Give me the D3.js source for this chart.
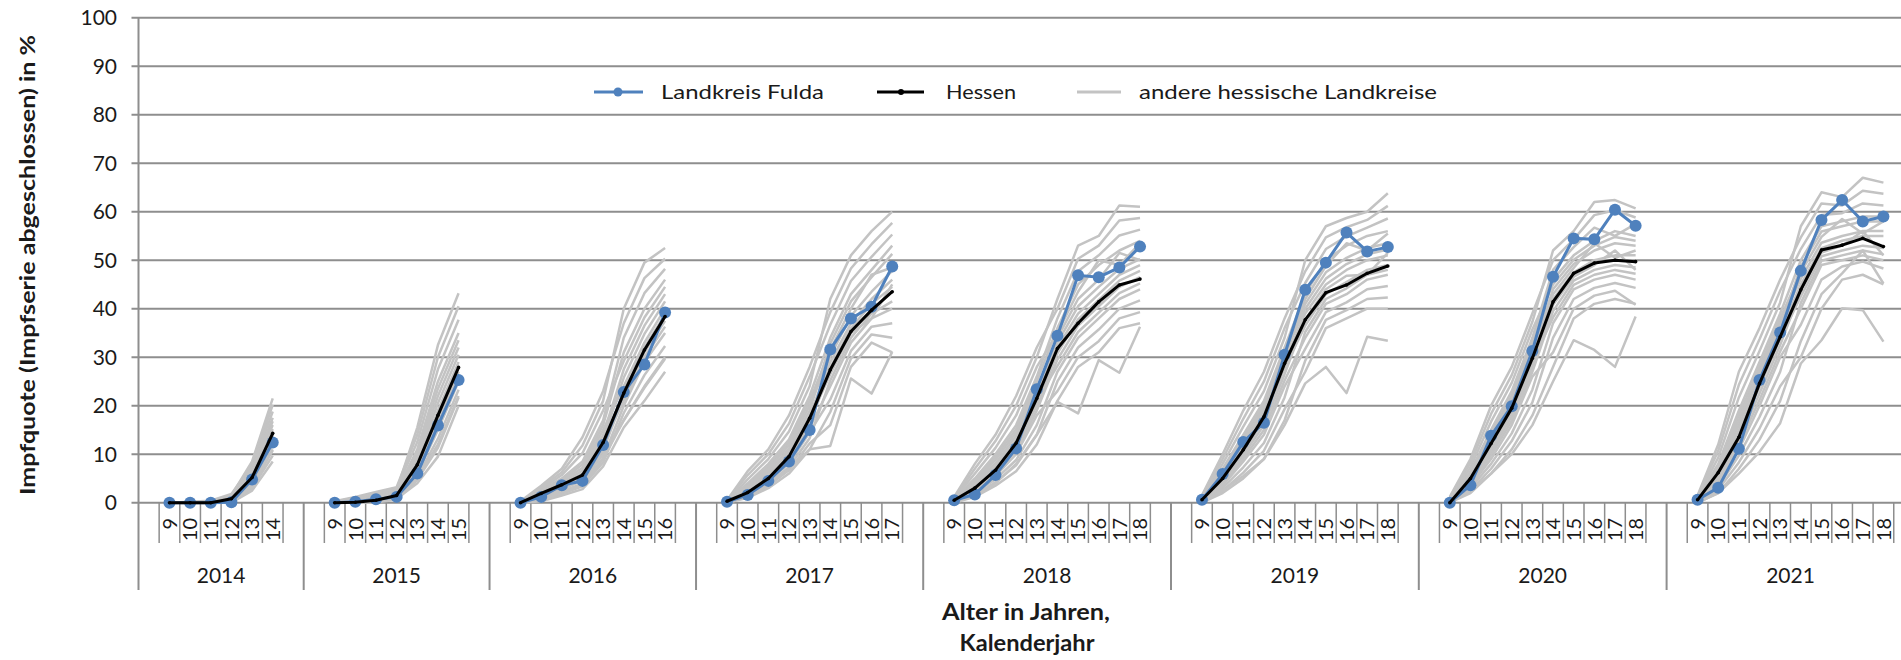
<!DOCTYPE html>
<html><head><meta charset="utf-8">
<script src="https://cdn.jsdelivr.net/npm/d3@7"></script>
<style>html,body{margin:0;padding:0;background:#fff;overflow:hidden}</style>
</head><body>
<svg id="chart" width="1901" height="660"></svg>
<script>
// ---------------- DATA ----------------
const years = [2014, 2015, 2016, 2017, 2018, 2019, 2020, 2021];
const maxAges = [14, 15, 16, 17, 18, 18, 18, 18];
const yTicks = [0, 10, 20, 30, 40, 50, 60, 70, 80, 90, 100];
const legendLabels = ["Landkreis Fulda", "Hessen", "andere hessische Landkreise"];

// Landkreis Fulda, per calendar year, ages 9..max
const fulda = [
  [0, 0, 0, 0.1, 4.8, 12.4],
  [0, 0.2, 0.7, 1.2, 6.0, 15.9, 25.3],
  [0, 1.2, 3.6, 4.5, 11.9, 22.8, 28.5, 39.2],
  [0.2, 1.6, 4.5, 8.5, 15.0, 31.6, 38.0, 40.4, 48.7],
  [0.5, 1.7, 5.7, 11.2, 23.4, 34.4, 46.9, 46.5, 48.5, 52.8],
  [0.6, 5.9, 12.5, 16.5, 30.5, 43.9, 49.5, 55.7, 51.8, 52.7],
  [0, 3.6, 13.8, 19.9, 31.3, 46.6, 54.5, 54.3, 60.4, 57.1],
  [0.6, 3.1, 11.1, 25.3, 35.1, 47.8, 58.3, 62.4, 58.0, 59.0]
];

// Hessen
const hessen = [
  [0, 0, 0, 0.8, 5.2, 14.3],
  [0, 0.1, 0.5, 1.5, 7.8, 18.0, 27.9],
  [0, 1.9, 3.7, 5.7, 12.4, 22.6, 31.5, 38.4],
  [0.3, 2.1, 5.0, 9.5, 17.4, 27.4, 35.3, 39.7, 43.5],
  [0.5, 3.0, 6.7, 12.3, 21.5, 31.8, 37.0, 41.4, 44.9, 46.1],
  [0.6, 5.0, 10.9, 17.7, 28.7, 37.7, 43.3, 44.9, 47.3, 48.8],
  [0, 5.0, 12.2, 19.5, 29.8, 41.4, 47.3, 49.4, 50.0, 49.7],
  [0.6, 6.2, 13.5, 24.6, 34.2, 43.9, 52.1, 53.1, 54.5, 52.8]
];

// other Hessian districts (one row per district)
const grey2014 = [
  [0, 0.2, 0.4, 1.8, 7.8, 20.2],
  [0, 0.1, 0.3, 1.5, 8.5, 21.5],
  [0, 0, 0.2, 1.3, 6.2, 16.8],
  [0, 0, 0.1, 1.0, 7.2, 18.8],
  [0, 0, 0.1, 0.9, 6.5, 17.5],
  [0, 0, 0, 0.8, 5.2, 14.5],
  [0, 0, 0, 0.7, 5.9, 16.0],
  [0, 0, 0, 0.6, 5.5, 15.2],
  [0, 0, 0, 0.5, 4.3, 12.6],
  [0, 0, 0, 0.45, 4.9, 13.9],
  [0, 0, 0, 0.4, 4.6, 13.2],
  [0, 0, 0, 0.3, 3.0, 9.7],
  [0, 0, 0, 0.2, 4.0, 12.0],
  [0, 0, 0, 0.1, 3.5, 10.8],
  [0, 0, 0, 0, 2.5, 8.5],
  [0, 0, 0, 0.2, 3.2, 11.0]
];
const grey2015 = [
  [0.1, 0.8, 1.5, 2.6, 15.5, 32.5, 43.2],
  [0.3, 1.2, 2.2, 3.2, 14.0, 30.0, 40.5],
  [0.2, 1.0, 1.9, 2.9, 12.5, 27.5, 37.7],
  [0.1, 0.6, 1.2, 2.3, 11.0, 25.0, 35.0],
  [0, 0.35, 0.8, 1.8, 10.2, 23.5, 33.5],
  [0.1, 0.5, 1.1, 2.1, 9.5, 22.0, 32.0],
  [0.1, 0.4, 0.95, 1.95, 8.8, 20.5, 30.5],
  [0, 0.3, 0.7, 1.6, 8.0, 19.0, 29.0],
  [0, 0.2, 0.55, 1.35, 7.5, 18.0, 28.0],
  [0, 0.25, 0.6, 1.5, 7.0, 17.0, 27.0],
  [0, 0.05, 0.3, 0.9, 6.5, 16.0, 26.0],
  [0, 0.15, 0.5, 1.2, 6.0, 15.0, 25.0],
  [0, 0.1, 0.4, 1.1, 5.3, 13.2, 23.3],
  [0, 0, 0.1, 0.6, 4.7, 11.3, 21.7],
  [0, 0, 0.2, 0.8, 4.0, 9.5, 20.0],
  [0, 0, 0.3, 1.0, 5.0, 12.0, 22.0]
];
const grey2016 = [
  [0.3, 3.5, 7.0, 13.5, 23.0, 37.0, 46.3, 50.3],
  [0.2, 3.2, 6.3, 11.8, 21.0, 40.0, 49.5, 52.5],
  [0.1, 2.8, 5.7, 10.2, 19.0, 29.2, 38.2, 44.5],
  [0.1, 2.5, 5.0, 8.5, 17.0, 34.0, 43.2, 48.2],
  [0, 2.3, 4.7, 7.9, 16.0, 31.0, 40.0, 46.0],
  [0, 2.1, 4.4, 7.2, 15.0, 24.0, 33.0, 40.0],
  [0, 1.9, 4.1, 6.6, 14.0, 27.5, 36.5, 43.0],
  [0, 1.7, 3.8, 6.0, 13.0, 25.8, 34.8, 41.5],
  [0, 1.5, 3.5, 5.6, 12.2, 21.0, 30.0, 36.3],
  [0, 1.35, 3.3, 5.2, 11.5, 23.0, 32.0, 38.8],
  [0, 1.2, 3.0, 4.9, 10.7, 22.0, 31.0, 37.5],
  [0, 1.0, 2.8, 4.5, 10.0, 17.0, 23.7, 29.7],
  [0, 0.8, 2.4, 3.9, 9.2, 20.0, 29.0, 35.0],
  [0, 0.5, 1.9, 3.4, 8.3, 18.5, 26.3, 32.3],
  [0, 0.3, 1.5, 2.8, 7.5, 15.5, 21.0, 27.0],
  [0, 0.5, 2.0, 3.5, 9.0, 17.0, 24.0, 30.0]
];
const grey2017 = [
  [0.3, 4.8, 9.0, 14.7, 24.0, 42.0, 51.0, 56.0, 60.0],
  [0.5, 6.5, 11.0, 18.0, 28.0, 39.3, 48.3, 53.3, 57.7],
  [0.4, 5.7, 10.0, 16.3, 26.0, 36.7, 45.7, 50.7, 55.3],
  [0.3, 4.0, 8.0, 13.0, 22.0, 34.0, 43.0, 48.0, 53.0],
  [0.1, 3.1, 6.5, 11.1, 19.0, 32.8, 41.5, 46.5, 51.3],
  [0.2, 3.7, 7.5, 12.4, 21.0, 31.5, 40.0, 47.0, 48.5],
  [0.2, 3.4, 7.0, 11.8, 20.0, 30.2, 38.5, 43.5, 47.8],
  [0.1, 2.8, 6.0, 10.5, 18.0, 29.0, 37.0, 42.0, 46.0],
  [0.1, 2.4, 5.2, 9.2, 16.2, 27.8, 36.0, 41.0, 44.5],
  [0.1, 2.6, 5.6, 9.9, 17.1, 26.5, 35.0, 38.0, 45.0],
  [0, 1.7, 4.0, 7.3, 13.3, 25.2, 34.0, 39.0, 41.5],
  [0, 2.2, 4.9, 8.6, 15.4, 24.0, 33.0, 38.0, 40.0],
  [0, 2.0, 4.5, 8.0, 14.5, 21.3, 31.3, 36.3, 37.0],
  [0, 1.0, 3.0, 6.0, 11.0, 18.7, 29.7, 34.7, 34.0],
  [0, 1.3, 3.5, 6.7, 12.2, 16.0, 28.0, 33.0, 31.0],
  [0, 1.5, 3.5, 7.0, 11.0, 11.7, 25.6, 22.5, 31.1]
];
const grey2018 = [
  [1.2, 8.0, 14.0, 22.0, 32.0, 40.0, 50.3, 53.0, 58.2, 58.7],
  [1.0, 7.0, 12.7, 20.0, 30.0, 42.0, 53.0, 55.0, 61.3, 61.0],
  [0.9, 6.0, 11.3, 18.0, 28.0, 35.0, 43.5, 50.0, 49.0, 53.5],
  [0.8, 5.0, 10.0, 16.0, 26.0, 38.0, 47.7, 51.0, 55.1, 56.3],
  [0.7, 4.6, 9.4, 15.2, 25.0, 36.0, 45.0, 49.0, 52.0, 54.0],
  [0.6, 4.2, 8.8, 14.5, 24.0, 32.0, 39.0, 43.0, 47.0, 49.0],
  [0.5, 3.9, 8.1, 13.8, 23.0, 34.0, 42.0, 46.0, 51.5, 50.0],
  [0.5, 3.5, 7.5, 13.0, 22.0, 33.0, 40.5, 44.5, 48.2, 50.2],
  [0.4, 3.2, 7.0, 12.2, 21.0, 28.2, 35.2, 39.2, 43.2, 45.2],
  [0.3, 3.0, 6.5, 11.5, 20.0, 30.8, 37.8, 41.8, 45.8, 47.8],
  [0.3, 2.7, 6.0, 10.8, 19.0, 29.5, 36.5, 40.5, 44.5, 46.5],
  [0.2, 2.5, 5.5, 10.0, 18.0, 23.0, 30.0, 33.3, 38.0, 39.3],
  [0.2, 2.1, 4.8, 8.8, 16.0, 27.0, 34.0, 38.0, 42.0, 44.0],
  [0.1, 1.6, 4.2, 7.7, 14.0, 25.0, 32.0, 35.7, 40.0, 41.7],
  [0, 1.2, 3.5, 6.5, 12.0, 21.0, 28.0, 31.0, 36.0, 37.0],
  [0, 1.5, 4.0, 8.0, 14.0, 20.8, 18.4, 29.4, 26.8, 36.3]
];
const grey2019 = [
  [1.1, 8.0, 15.7, 23.0, 34.0, 50.0, 57.0, 58.7, 60.0, 63.8],
  [1.5, 10.0, 19.0, 27.0, 38.0, 47.7, 54.7, 56.8, 58.3, 61.2],
  [1.3, 9.0, 17.3, 25.0, 36.0, 45.3, 52.3, 54.9, 56.7, 58.6],
  [1.0, 7.0, 14.0, 21.0, 32.0, 43.0, 50.0, 53.0, 55.0, 56.0],
  [0.7, 5.5, 11.8, 18.8, 29.8, 42.0, 48.8, 53.5, 52.0, 55.5],
  [0.9, 6.5, 13.3, 20.2, 31.2, 41.0, 47.5, 50.5, 52.5, 53.5],
  [0.8, 6.0, 12.5, 19.5, 30.5, 40.0, 46.2, 49.2, 51.2, 52.2],
  [0.6, 5.0, 11.0, 18.0, 29.0, 39.0, 45.0, 48.0, 50.0, 51.0],
  [0.5, 4.3, 9.8, 16.0, 26.5, 37.8, 44.0, 46.8, 47.0, 51.5],
  [0.5, 4.6, 10.4, 17.0, 27.8, 36.5, 43.0, 45.5, 48.0, 49.0],
  [0.2, 3.0, 7.3, 12.3, 21.7, 35.2, 42.0, 44.2, 47.0, 48.0],
  [0.4, 3.9, 9.1, 15.0, 25.2, 34.0, 41.0, 43.0, 46.0, 47.0],
  [0.3, 3.5, 8.5, 14.0, 24.0, 31.7, 39.3, 41.3, 44.0, 44.7],
  [0, 2.0, 5.0, 9.0, 17.0, 29.3, 37.7, 39.7, 42.0, 42.3],
  [0.1, 2.5, 6.2, 10.7, 19.3, 27.0, 36.0, 38.0, 40.0, 40.0],
  [0, 2.5, 5.5, 9.0, 16.0, 24.6, 28.0, 22.6, 34.2, 33.4]
];
const grey2020 = [
  [1.2, 9.0, 20.0, 28.0, 39.0, 50.0, 54.3, 59.3, 60.3, 58.8],
  [1.0, 8.2, 18.3, 26.3, 37.3, 52.0, 56.0, 62.0, 62.4, 60.7],
  [0.9, 7.3, 16.7, 24.7, 35.7, 45.0, 50.1, 53.0, 54.8, 54.0],
  [0.8, 6.5, 15.0, 23.0, 34.0, 48.0, 52.7, 56.7, 55.0, 57.5],
  [0.7, 6.1, 14.2, 22.1, 33.0, 46.0, 51.0, 54.0, 56.0, 55.0],
  [0.6, 5.7, 13.5, 21.2, 32.0, 42.0, 47.5, 50.0, 51.0, 51.0],
  [0.5, 5.4, 12.8, 20.4, 31.0, 44.0, 49.2, 52.0, 53.5, 53.0],
  [0.5, 5.0, 12.0, 19.5, 30.0, 43.0, 48.4, 53.5, 50.5, 52.0],
  [0.4, 4.6, 11.2, 18.6, 29.0, 38.2, 44.9, 47.0, 48.0, 47.2],
  [0.3, 4.3, 10.5, 17.8, 28.0, 40.8, 46.6, 49.0, 52.0, 48.0],
  [0.3, 3.9, 9.8, 16.9, 27.0, 39.5, 45.8, 48.0, 49.0, 48.5],
  [0.2, 3.5, 9.0, 16.0, 26.0, 31.0, 40.0, 42.7, 43.7, 40.8],
  [0.1, 3.0, 8.0, 14.3, 23.3, 37.0, 44.0, 46.0, 47.0, 46.0],
  [0.1, 2.5, 7.0, 12.7, 20.7, 34.0, 42.0, 44.3, 45.3, 44.3],
  [0, 2.0, 6.0, 11.0, 18.0, 28.0, 38.0, 41.0, 42.0, 41.0],
  [0, 2.5, 6.0, 10.0, 16.0, 25.0, 33.5, 31.5, 28.0, 38.4]
];
const grey2021 = [
  [1.1, 9.3, 21.7, 31.3, 41.3, 57.0, 64.0, 63.0, 67.0, 66.0],
  [1.5, 12.0, 27.0, 36.0, 46.0, 54.7, 61.7, 61.3, 64.3, 63.7],
  [1.3, 10.7, 24.3, 33.7, 43.7, 52.3, 59.3, 59.7, 61.7, 61.3],
  [1.0, 8.0, 19.0, 29.0, 39.0, 50.0, 57.0, 58.0, 59.0, 59.0],
  [0.7, 6.5, 16.0, 26.0, 36.0, 48.8, 55.9, 57.0, 58.0, 58.0],
  [0.9, 7.5, 18.0, 28.0, 38.0, 47.5, 54.8, 58.5, 55.5, 58.0],
  [0.8, 7.0, 17.0, 27.0, 37.0, 46.2, 53.6, 55.0, 56.0, 56.0],
  [0.6, 6.0, 15.0, 25.0, 35.0, 45.0, 52.5, 54.0, 55.0, 55.0],
  [0.5, 5.0, 13.0, 22.5, 32.5, 43.8, 51.6, 53.0, 56.0, 51.0],
  [0.5, 5.5, 14.0, 23.8, 33.8, 42.5, 50.8, 52.0, 53.0, 52.5],
  [0.2, 3.3, 9.7, 17.7, 27.0, 41.2, 49.9, 51.0, 52.0, 51.2],
  [0.4, 4.5, 12.0, 21.2, 31.2, 40.0, 49.0, 50.0, 51.0, 50.0],
  [0.3, 4.0, 11.0, 20.0, 30.0, 36.7, 46.0, 48.7, 49.7, 48.3],
  [0, 2.0, 7.0, 13.0, 21.0, 33.3, 43.0, 47.3, 52.0, 45.2],
  [0.1, 2.7, 8.3, 15.3, 24.0, 30.0, 40.0, 46.0, 47.0, 45.0],
  [0, 2.0, 6.0, 10.5, 16.4, 28.7, 33.5, 40.1, 39.7, 33.2]
];
const greyByYear = [grey2014, grey2015, grey2016, grey2017, grey2018, grey2019, grey2020, grey2021];

// ---------------- CHART ----------------
const svg = d3.select("#chart");
const FONT = "Lato, 'Open Sans', sans-serif";
const gridColor = "#8e8e8e";
const slotW = 20.65, left = 138.5;
const yBase = 502.7, yTop = 17.7;

// category slots: a blank slot before and after each year's ages
const slots = [];
years.forEach((yr, i) => {
  slots.push(yr + "|pre");
  for (let a = 9; a <= maxAges[i]; a++) slots.push(yr + "|" + a);
  slots.push(yr + "|post");
});
const x = d3.scaleBand().domain(slots).range([left, left + slots.length * slotW]).padding(0);
const y = d3.scaleLinear().domain([0, 100]).range([yBase, yTop]);
const cx = k => x(k) + x.bandwidth() / 2;

// gridlines
svg.append("g").selectAll("line").data(yTicks).join("line")
  .attr("x1", left - 7).attr("x2", 1901)
  .attr("y1", d => y(d)).attr("y2", d => y(d))
  .attr("stroke", gridColor).attr("stroke-width", 2);

// y axis line (extends through category label rows)
svg.append("line").attr("x1", left).attr("x2", left).attr("y1", yTop).attr("y2", 590)
  .attr("stroke", gridColor).attr("stroke-width", 2);

// y tick labels
svg.append("g").selectAll("text").data(yTicks).join("text")
  .attr("x", 117).attr("y", d => y(d)).attr("dy", "0.36em")
  .attr("text-anchor", "end").attr("font-family", FONT).attr("font-size", 21).attr("fill", "#1a1a1a")
  .text(d => d);

// category ticks and labels
years.forEach((yr, i) => {
  const groupSlots = slots.filter(s => s.startsWith(yr + "|"));
  const gx0 = x(groupSlots[0]);
  const gx1 = x(groupSlots[groupSlots.length - 1]) + x.bandwidth();
  svg.append("line").attr("x1", gx1).attr("x2", gx1).attr("y1", yBase).attr("y2", 590)
    .attr("stroke", gridColor).attr("stroke-width", 2);
  groupSlots.slice(1).forEach(s => {
    svg.append("line").attr("x1", x(s)).attr("x2", x(s)).attr("y1", yBase).attr("y2", 543)
      .attr("stroke", gridColor).attr("stroke-width", 1.5);
  });
  groupSlots.filter(s => !s.endsWith("pre") && !s.endsWith("post")).forEach(s => {
    svg.append("text")
      .attr("transform", `translate(${cx(s)},518) rotate(-90)`)
      .attr("text-anchor", "end").attr("dy", "0.36em")
      .attr("font-family", FONT).attr("font-size", 20).attr("fill", "#1a1a1a")
      .text(s.split("|")[1]);
  });
  svg.append("text").attr("x", (gx0 + gx1) / 2).attr("y", 583)
    .attr("text-anchor", "middle").attr("font-family", FONT).attr("font-size", 21).attr("fill", "#1a1a1a")
    .text(yr);
});

// lines
const line = d3.line().x(d => cx(d.k)).y(d => y(d.v));
const toPts = (yr, arr) => arr.map((v, j) => ({ k: yr + "|" + (9 + j), v }));

const gGrey = svg.append("g");
years.forEach((yr, i) => {
  greyByYear[i].forEach(row => {
    gGrey.append("path").attr("d", line(toPts(yr, row)))
      .attr("fill", "none").attr("stroke", "#c3c3c3").attr("stroke-width", 2.5)
      .attr("stroke-linejoin", "round");
  });
});

const gBlue = svg.append("g");
years.forEach((yr, i) => {
  const pts = toPts(yr, fulda[i]);
  gBlue.append("path").attr("d", line(pts)).attr("fill", "none")
    .attr("stroke", "#4f81bd").attr("stroke-width", 3);
  gBlue.selectAll(null).data(pts).join("circle")
    .attr("cx", d => cx(d.k)).attr("cy", d => y(d.v)).attr("r", 6).attr("fill", "#4f81bd");
});

const gBlack = svg.append("g");
years.forEach((yr, i) => {
  const pts = toPts(yr, hessen[i]);
  gBlack.append("path").attr("d", line(pts)).attr("fill", "none")
    .attr("stroke", "#000").attr("stroke-width", 3).attr("stroke-linejoin", "round");
  gBlack.selectAll(null).data(pts).join("circle")
    .attr("cx", d => cx(d.k)).attr("cy", d => y(d.v)).attr("r", 1.8).attr("fill", "#000");
});

// legend
const lg = svg.append("g");
const legY = 92;
lg.append("line").attr("x1", 594).attr("x2", 643).attr("y1", legY).attr("y2", legY).attr("stroke", "#4f81bd").attr("stroke-width", 3);
lg.append("circle").attr("cx", 618).attr("cy", legY).attr("r", 4.5).attr("fill", "#4f81bd");
lg.append("line").attr("x1", 877).attr("x2", 924).attr("y1", legY).attr("y2", legY).attr("stroke", "#000").attr("stroke-width", 3);
lg.append("circle").attr("cx", 901).attr("cy", legY).attr("r", 3).attr("fill", "#000");
lg.append("line").attr("x1", 1077).attr("x2", 1121).attr("y1", legY).attr("y2", legY).attr("stroke", "#c3c3c3").attr("stroke-width", 3);
const legTx = [[661, 163], [946, 70], [1139, 298]];
legendLabels.forEach((t, i) => {
  lg.append("text").attr("x", legTx[i][0]).attr("y", legY + 7)
    .attr("font-family", FONT).attr("font-size", 20).attr("fill", "#1a1a1a")
    .attr("textLength", legTx[i][1]).attr("lengthAdjust", "spacingAndGlyphs")
    .text(t);
});

// axis titles
svg.append("text").attr("transform", "translate(35,265) rotate(-90)")
  .attr("text-anchor", "middle").attr("font-family", FONT).attr("font-weight", "bold")
  .attr("font-size", 21).attr("fill", "#1a1a1a")
  .attr("textLength", 460).attr("lengthAdjust", "spacingAndGlyphs")
  .text("Impfquote (Impfserie abgeschlossen) in %");
svg.append("text").attr("x", 1026).attr("y", 620).attr("text-anchor", "middle")
  .attr("font-family", FONT).attr("font-weight", "bold").attr("font-size", 23).attr("fill", "#1a1a1a")
  .attr("textLength", 168).attr("lengthAdjust", "spacingAndGlyphs")
  .text("Alter in Jahren,");
svg.append("text").attr("x", 1027).attr("y", 651).attr("text-anchor", "middle")
  .attr("font-family", FONT).attr("font-weight", "bold").attr("font-size", 23).attr("fill", "#1a1a1a")
  .attr("textLength", 135).attr("lengthAdjust", "spacingAndGlyphs")
  .text("Kalenderjahr");
</script>
</body></html>
